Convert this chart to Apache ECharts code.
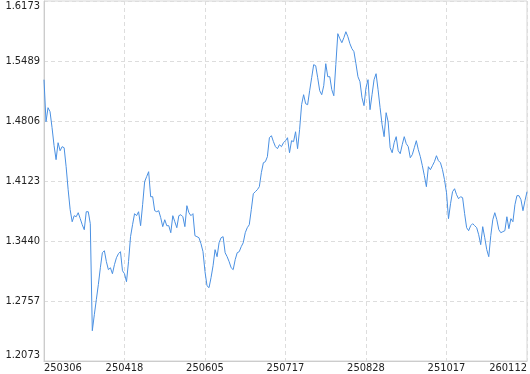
<!DOCTYPE html>
<html><head><meta charset="utf-8">
<script src="https://cdn.jsdelivr.net/npm/echarts@6/dist/echarts.min.js"></script>
<style>html,body{margin:0;padding:0;background:#fff}#c{width:530px;height:374px}</style>
</head><body><div id="c"></div>
<script>
const dates = ("250306 250307 250308 250310 250311 250312 250313 250314 250315 250317 250318 250319 250320 250321 250322 250324 250325 250326 250327 250328 250329 250330 250331 250401 250402 250403 250404 250405 250406 250407 250408 250409 250410 250411 250412 250413 250414 250415 250416 250417 250418 " +
"250419 250421 250422 250423 250424 250425 250426 250428 250429 250430 250502 250503 250505 250506 250507 250508 250509 250510 250512 250513 250514 250515 250516 250517 250519 250520 250521 250522 250523 250524 250526 250527 250528 250529 250530 250531 250602 250603 250604 250605 " +
"250606 250607 250609 250610 250611 250612 250613 250614 250616 250617 250618 250619 250620 250621 250622 250623 250624 250625 250626 250627 250628 250629 250630 250701 250702 250703 250704 250705 250706 250707 250708 250709 250710 250711 250712 250713 250714 250715 250716 250717 " +
"250718 250719 250721 250722 250723 250724 250725 250726 250728 250729 250730 250731 250801 250802 250803 250804 250805 250806 250807 250808 250809 250810 250811 250812 250813 250814 250815 250816 250817 250818 250819 250820 250821 250822 250823 250824 250825 250826 250827 250828 " +
"250829 250830 250901 250902 250903 250904 250905 250906 250908 250909 250910 250911 250912 250913 250914 250915 250916 250917 250918 250919 250920 250921 250922 250923 250924 250925 250926 250927 250928 250929 250930 251009 251010 251011 251012 251013 251014 251015 251016 251017 " +
"251020 251022 251024 251027 251029 251031 251103 251105 251107 251110 251112 251114 251117 251119 251121 251124 251126 251128 251201 251203 251205 251208 251210 251212 251215 251217 251219 251222 251224 251226 251229 251231 260102 260105 260106 260107 260108 260109 260110 260112").split(" ");

const values = [
1.5277,1.4798,1.4958,1.4912,1.4730,1.4525,1.4366,1.4559,1.4468,1.4514,
1.4502,1.4286,1.4024,1.3796,1.3659,1.3728,1.3716,1.3762,1.3694,1.3625,
1.3568,1.3773,1.3773,1.3637,1.2418,1.2600,1.2771,1.2942,1.3135,1.3306,
1.3329,1.3204,1.3113,1.3135,1.3067,1.3170,1.3249,1.3295,1.3318,1.3101,
1.3067,1.2976,1.3204,1.3489,1.3625,1.3751,1.3728,1.3773,1.3614,1.3853,
1.4115,1.4172,1.4229,1.3944,1.3944,1.3785,1.3773,1.3785,1.3705,1.3603,
1.3682,1.3614,1.3614,1.3534,1.3728,1.3659,1.3591,1.3728,1.3739,1.3716,
1.3603,1.3842,1.3762,1.3728,1.3751,1.3500,1.3489,1.3477,1.3409,1.3318,
1.3090,1.2930,1.2908,1.3022,1.3158,1.3341,1.3261,1.3420,1.3477,1.3489,
1.3306,1.3261,1.3204,1.3135,1.3113,1.3227,1.3306,1.3318,1.3375,1.3420,
1.3534,1.3591,1.3625,1.3796,1.3978,1.4001,1.4024,1.4058,1.4218,1.4331,
1.4343,1.4400,1.4616,1.4639,1.4571,1.4514,1.4491,1.4536,1.4514,1.4559,
1.4582,1.4616,1.4445,1.4582,1.4571,1.4684,1.4491,1.4707,1.4992,1.5106,
1.5003,1.4992,1.5151,1.5299,1.5448,1.5436,1.5299,1.5151,1.5106,1.5208,
1.5459,1.5311,1.5311,1.5163,1.5094,1.5448,1.5801,1.5744,1.5698,1.5755,
1.5823,1.5766,1.5687,1.5630,1.5596,1.5459,1.5311,1.5254,1.5072,1.4981,
1.5186,1.5277,1.4935,1.5106,1.5277,1.5345,1.5163,1.4958,1.4764,1.4628,
1.4901,1.4798,1.4502,1.4445,1.4559,1.4628,1.4468,1.4434,1.4536,1.4628,
1.4548,1.4514,1.4388,1.4423,1.4502,1.4582,1.4479,1.4400,1.4297,1.4183,
1.4058,1.4286,1.4252,1.4297,1.4343,1.4411,1.4354,1.4331,1.4252,1.4138,
1.3990,1.3694,1.3864,1.4001,1.4035,1.3967,1.3921,1.3944,1.3933,1.3751,
1.3591,1.3557,1.3614,1.3637,1.3614,1.3591,1.3511,1.3398,1.3603,1.3477,
1.3341,1.3261,1.3500,1.3682,1.3762,1.3682,1.3568,1.3534,1.3546,1.3557,
1.3716,1.3580,1.3694,1.3659,1.3853,1.3956,1.3956,1.3910,1.3785,1.3899,
1.4001
];

const yTickLabels = ["1.2073","1.2757","1.3440","1.4123","1.4806","1.5489","1.6173"];
const yMin = 1.2073, yMax = 1.6173;
const xLabelEvery = 40;

if (dates.length !== values.length) console.error("length mismatch", dates.length, values.length);

// axis in tick units so that ticks fall exactly on the printed labels
const steps = yTickLabels.length - 1;
const stepSize = (yMax - yMin) / steps;
const seriesData = values.map(v => (v - yMin) / stepSize);

const font = "'DejaVu Sans Condensed', 'DejaVu Sans', sans-serif";
const chart = echarts.init(document.getElementById('c'), null, {renderer: 'canvas'});
chart.setOption({
  animation: false,
  grid: {left: 44, right: 2, top: 1, bottom: 13, show: true, borderColor: '#d6d6d6', borderWidth: 1},
  xAxis: {
    type: 'category', data: dates, boundaryGap: false,
    axisLine: {lineStyle: {color: '#cccccc'}},
    axisTick: {show: false},
    axisLabel: {interval: xLabelEvery - 1, color: '#222', fontSize: 11, fontFamily: font, margin: 2,
      alignMinLabel: 'left', alignMaxLabel: 'right'},
    splitLine: {show: true, interval: xLabelEvery - 1, lineStyle: {color: '#dddddd', type: [4, 3]}}
  },
  yAxis: {
    type: 'value', min: 0, max: steps, interval: 1,
    axisLine: {show: true, lineStyle: {color: '#cccccc'}},
    axisTick: {show: false},
    axisLabel: {formatter: v => yTickLabels[Math.round(v)], color: '#222', fontSize: 11, fontFamily: font, margin: 4,
      verticalAlignMinLabel: 'bottom', verticalAlignMaxLabel: 'top'},
    splitLine: {show: true, lineStyle: {color: '#dddddd', type: [4, 3]}}
  },
  series: [{
    type: 'line', data: seriesData, symbol: 'none', showSymbol: false,
    lineStyle: {width: 1, color: '#4a90e2'}, itemStyle: {color: '#4a90e2'}
  }]
});
</script>
</body></html>
